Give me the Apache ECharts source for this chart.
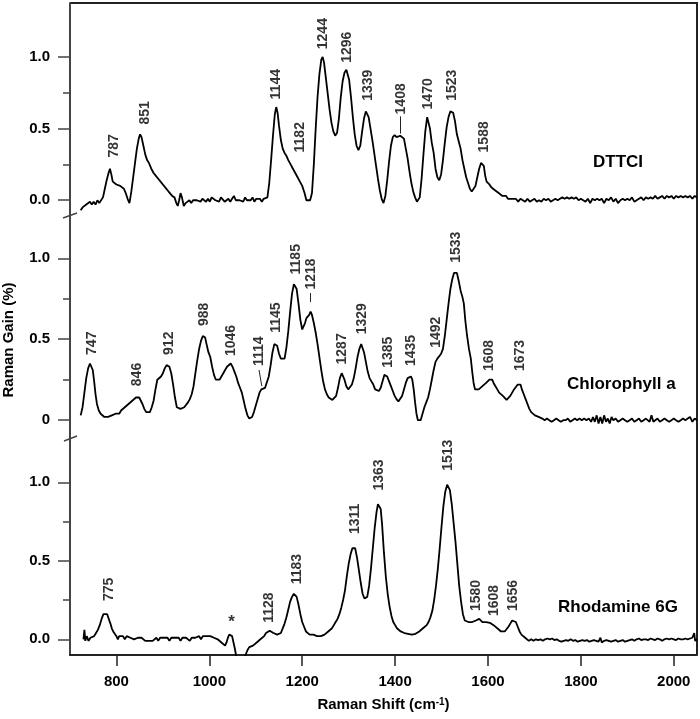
<!DOCTYPE html>
<html><head><meta charset="utf-8">
<script src="https://cdn.jsdelivr.net/npm/echarts@6/dist/echarts.min.js"></script>
<style>html,body{margin:0;padding:0;background:#fff}#c{width:700px;height:719px}</style>
</head><body><div id="c"></div><script>
const FONT = '"Liberation Sans", Arial, sans-serif';
const xTicks = [800,1000,1200,1400,1600,1800,2000];
const yMajorTicks = [0,0.5,1.0];
const yMinorTicks = [0.25,0.75];
const yTickLabels1 = ['0.0','0.5','1.0'];
const yTickLabels2 = ['0','0.5','1.0'];
const yTickLabels3 = ['0.0','0.5','1.0'];
const sampleNames = ['DTTCI','Chlorophyll a','Rhodamine 6G'];

const dttci = [[723,-0.07],[727,-0.05],[731,-0.06],[735,-0.03],[739,-0.04],[743,-0.01],[747,-0.03],[751,-0.01],[755,-0.03],[759,0.00],[763,-0.02],[767,-0.03],[771,0.02],[775,0.08],[779,0.14],[783,0.19],[786,0.22],[789,0.18],[792,0.13],[796,0.12],[800,0.11],[804,0.12],[808,0.10],[812,0.11],[816,0.08],[820,0.05],[824,0.01],[828,-0.02],[832,0.06],[836,0.16],[840,0.26],[844,0.36],[848,0.43],[851,0.46],[854,0.44],[858,0.38],[862,0.32],[866,0.28],[870,0.26],[875,0.22],[880,0.19],[885,0.17],[890,0.15],[895,0.13],[900,0.11],[905,0.09],[910,0.07],[915,0.05],[920,0.03],[925,0.02],[929,-0.02],[932,-0.04],[935,0.00],[938,0.05],[941,0.02],[945,-0.04],[949,-0.02],[953,-0.03],[957,0.00],[961,-0.02],[965,0.00],[969,0.01],[973,0.00],[977,0.01],[981,-0.01],[985,0.01],[989,0.00],[993,-0.01],[997,0.01],[1001,-0.01],[1005,0.02],[1009,0.01],[1013,0.00],[1017,0.01],[1021,-0.01],[1025,0.02],[1029,0.01],[1033,-0.01],[1037,0.00],[1041,0.01],[1045,-0.01],[1049,0.01],[1053,0.03],[1057,0.00],[1061,0.01],[1065,0.00],[1069,0.01],[1073,-0.01],[1077,0.02],[1081,0.00],[1085,0.01],[1089,0.00],[1093,0.02],[1097,-0.01],[1101,0.01],[1105,0.00],[1109,0.01],[1113,-0.01],[1117,0.01],[1121,0.00],[1125,0.02],[1129,0.12],[1133,0.28],[1137,0.45],[1141,0.60],[1144,0.65],[1147,0.61],[1150,0.52],[1154,0.42],[1158,0.36],[1162,0.33],[1166,0.31],[1170,0.28],[1175,0.25],[1180,0.22],[1185,0.19],[1190,0.16],[1195,0.13],[1200,0.10],[1205,0.05],[1209,0.00],[1213,-0.01],[1217,0.00],[1221,0.05],[1225,0.25],[1229,0.50],[1233,0.72],[1237,0.88],[1241,0.98],[1244,1.00],[1247,0.96],[1251,0.85],[1255,0.74],[1259,0.63],[1263,0.54],[1267,0.48],[1271,0.45],[1275,0.47],[1279,0.57],[1283,0.72],[1287,0.83],[1291,0.89],[1295,0.91],[1298,0.90],[1301,0.84],[1305,0.72],[1309,0.58],[1313,0.46],[1317,0.38],[1321,0.35],[1325,0.38],[1329,0.48],[1333,0.57],[1337,0.62],[1340,0.63],[1343,0.58],[1347,0.50],[1351,0.42],[1355,0.33],[1359,0.24],[1363,0.15],[1367,0.07],[1371,0.01],[1375,-0.02],[1379,0.03],[1383,0.14],[1387,0.27],[1391,0.38],[1395,0.44],[1399,0.455],[1403,0.44],[1407,0.43],[1411,0.45],[1415,0.455],[1419,0.43],[1423,0.36],[1427,0.29],[1431,0.20],[1435,0.12],[1439,0.06],[1443,0.02],[1447,-0.01],[1450,-0.02],[1453,0.02],[1457,0.15],[1461,0.32],[1465,0.48],[1469,0.58],[1472,0.57],[1475,0.50],[1479,0.40],[1483,0.33],[1487,0.22],[1491,0.16],[1495,0.14],[1499,0.18],[1503,0.28],[1507,0.40],[1511,0.51],[1515,0.58],[1519,0.62],[1522,0.63],[1525,0.61],[1529,0.55],[1533,0.46],[1537,0.41],[1541,0.36],[1545,0.28],[1549,0.22],[1553,0.16],[1557,0.12],[1561,0.08],[1565,0.06],[1569,0.06],[1573,0.10],[1577,0.16],[1581,0.22],[1585,0.26],[1588,0.27],[1591,0.24],[1594,0.17],[1597,0.13],[1600,0.14],[1603,0.11],[1607,0.09],[1611,0.09],[1615,0.07],[1619,0.07],[1623,0.05],[1627,0.05],[1631,0.03],[1635,0.02],[1639,0.03],[1643,0.01],[1647,0.02],[1651,0.01],[1655,0.00],[1660,0.01],[1665,-0.01],[1670,0.01],[1675,0.00],[1680,-0.01],[1685,0.01],[1690,-0.01],[1695,0.00],[1700,0.01],[1705,-0.01],[1710,0.00],[1715,-0.01],[1720,0.01],[1725,0.00],[1730,0.01],[1735,-0.01],[1740,0.00],[1745,0.01],[1750,0.00],[1755,0.01],[1760,0.02],[1765,0.01],[1770,0.02],[1775,0.01],[1780,0.02],[1785,0.01],[1790,0.02],[1795,0.00],[1800,0.01],[1805,0.00],[1810,-0.01],[1815,0.01],[1820,-0.02],[1825,0.01],[1830,0.00],[1835,0.01],[1840,0.00],[1845,0.01],[1850,-0.02],[1855,0.01],[1860,0.00],[1865,0.02],[1870,-0.01],[1875,0.01],[1880,-0.02],[1885,0.00],[1890,0.01],[1895,0.00],[1900,0.01],[1905,0.00],[1910,0.02],[1915,-0.01],[1920,0.00],[1925,0.01],[1930,0.02],[1935,0.00],[1940,0.02],[1945,0.01],[1950,0.02],[1955,0.01],[1960,0.03],[1965,0.01],[1970,0.02],[1975,0.03],[1980,0.01],[1985,0.03],[1990,0.02],[1995,0.03],[2000,0.01],[2005,0.03],[2010,0.02],[2015,0.03],[2020,0.02],[2025,0.03],[2030,0.02],[2035,0.03],[2040,0.01],[2045,0.03],[2050,0.02]];

const chlorophyll = [[723,0.03],[727,0.08],[731,0.17],[735,0.26],[739,0.32],[743,0.35],[746,0.35],[749,0.31],[752,0.24],[755,0.16],[758,0.10],[762,0.06],[766,0.04],[770,0.03],[774,0.02],[778,0.01],[782,0.02],[786,0.01],[790,0.03],[794,0.02],[798,0.04],[802,0.05],[806,0.04],[810,0.06],[814,0.07],[818,0.08],[822,0.09],[826,0.10],[830,0.11],[834,0.12],[838,0.13],[842,0.14],[846,0.15],[849,0.14],[852,0.13],[856,0.10],[860,0.07],[864,0.05],[868,0.04],[872,0.05],[876,0.08],[880,0.12],[884,0.19],[888,0.25],[892,0.26],[896,0.27],[900,0.29],[904,0.32],[908,0.34],[911,0.35],[914,0.33],[918,0.29],[922,0.22],[926,0.14],[930,0.08],[934,0.07],[938,0.07],[942,0.08],[946,0.08],[950,0.09],[954,0.11],[958,0.13],[962,0.16],[966,0.21],[970,0.29],[974,0.37],[978,0.44],[982,0.49],[986,0.52],[988,0.53],[991,0.51],[994,0.47],[998,0.42],[1002,0.39],[1006,0.33],[1010,0.28],[1014,0.25],[1018,0.24],[1022,0.25],[1026,0.27],[1030,0.29],[1034,0.31],[1038,0.33],[1042,0.34],[1046,0.35],[1050,0.33],[1054,0.30],[1058,0.27],[1062,0.23],[1066,0.20],[1070,0.17],[1074,0.12],[1078,0.07],[1082,0.03],[1086,0.01],[1089,0.00],[1092,0.02],[1096,0.05],[1100,0.09],[1104,0.13],[1108,0.17],[1112,0.19],[1116,0.20],[1120,0.20],[1124,0.21],[1128,0.27],[1132,0.34],[1136,0.42],[1140,0.47],[1143,0.48],[1146,0.46],[1150,0.41],[1154,0.38],[1158,0.37],[1162,0.38],[1166,0.45],[1170,0.55],[1174,0.67],[1178,0.78],[1182,0.84],[1185,0.85],[1188,0.81],[1192,0.72],[1196,0.62],[1200,0.56],[1203,0.55],[1206,0.60],[1209,0.63],[1212,0.62],[1215,0.65],[1218,0.67],[1221,0.65],[1225,0.60],[1229,0.54],[1233,0.47],[1237,0.39],[1241,0.31],[1245,0.24],[1249,0.19],[1253,0.16],[1257,0.14],[1261,0.13],[1265,0.125],[1269,0.13],[1273,0.15],[1277,0.20],[1281,0.26],[1285,0.29],[1288,0.29],[1291,0.25],[1295,0.21],[1299,0.19],[1303,0.20],[1307,0.22],[1311,0.26],[1315,0.32],[1319,0.39],[1323,0.44],[1327,0.47],[1330,0.46],[1333,0.42],[1337,0.36],[1341,0.30],[1345,0.26],[1349,0.24],[1353,0.22],[1357,0.19],[1361,0.18],[1365,0.18],[1369,0.20],[1373,0.24],[1377,0.28],[1380,0.28],[1383,0.27],[1387,0.24],[1391,0.21],[1395,0.18],[1399,0.15],[1403,0.13],[1407,0.115],[1411,0.12],[1415,0.15],[1419,0.19],[1423,0.23],[1427,0.26],[1431,0.27],[1434,0.27],[1437,0.25],[1440,0.19],[1443,0.11],[1446,0.04],[1449,0.00],[1452,-0.01],[1455,0.00],[1459,0.04],[1463,0.08],[1467,0.11],[1471,0.14],[1475,0.19],[1479,0.25],[1483,0.31],[1487,0.36],[1491,0.38],[1495,0.39],[1499,0.41],[1503,0.44],[1507,0.52],[1511,0.62],[1515,0.72],[1519,0.81],[1523,0.87],[1527,0.91],[1530,0.92],[1533,0.91],[1537,0.86],[1541,0.80],[1545,0.76],[1548,0.72],[1551,0.62],[1555,0.52],[1559,0.44],[1563,0.38],[1566,0.30],[1569,0.23],[1572,0.19],[1576,0.18],[1580,0.19],[1584,0.20],[1588,0.21],[1592,0.22],[1596,0.23],[1600,0.24],[1603,0.25],[1606,0.24],[1609,0.25],[1612,0.23],[1616,0.21],[1620,0.19],[1624,0.17],[1628,0.16],[1632,0.15],[1636,0.14],[1640,0.125],[1644,0.13],[1648,0.15],[1652,0.17],[1656,0.19],[1660,0.20],[1664,0.22],[1667,0.23],[1670,0.22],[1673,0.19],[1677,0.16],[1681,0.13],[1685,0.10],[1689,0.07],[1693,0.05],[1697,0.04],[1701,0.03],[1705,0.02],[1709,0.02],[1713,0.01],[1717,0.01],[1722,0.00],[1727,0.01],[1732,0.00],[1737,-0.01],[1742,0.00],[1747,0.01],[1752,0.00],[1757,-0.01],[1762,0.00],[1767,0.00],[1772,0.01],[1777,-0.01],[1782,0.00],[1787,0.01],[1792,0.00],[1797,0.01],[1802,0.00],[1807,0.01],[1812,0.00],[1817,0.01],[1822,-0.01],[1826,0.02],[1830,-0.01],[1834,0.03],[1838,-0.02],[1842,0.02],[1846,-0.02],[1850,0.03],[1854,-0.01],[1858,0.01],[1862,-0.02],[1866,0.02],[1870,0.00],[1875,0.01],[1880,-0.01],[1885,0.00],[1890,0.01],[1895,0.00],[1900,-0.01],[1905,0.00],[1910,0.01],[1915,-0.01],[1920,0.00],[1925,0.01],[1930,-0.01],[1935,0.00],[1940,0.01],[1944,0.02],[1948,-0.01],[1952,0.03],[1956,-0.01],[1960,0.00],[1965,0.01],[1970,-0.01],[1975,0.00],[1980,0.01],[1985,0.00],[1990,-0.01],[1995,0.00],[2000,0.01],[2005,0.00],[2010,-0.01],[2015,0.00],[2020,0.01],[2025,0.00],[2030,0.01],[2035,0.02],[2040,-0.01],[2045,0.01],[2050,0.00]];

const rhodamine = [[729,0.00],[731,0.06],[733,-0.01],[736,0.02],[740,-0.01],[744,0.01],[748,0.00],[752,0.02],[756,0.04],[760,0.06],[764,0.09],[768,0.13],[772,0.16],[776,0.16],[780,0.16],[784,0.15],[787,0.10],[790,0.07],[793,0.05],[796,0.04],[800,0.02],[803,0.00],[806,0.02],[810,0.01],[814,0.02],[818,0.00],[822,0.02],[826,0.01],[830,0.01],[834,0.02],[838,0.00],[842,0.01],[846,0.01],[850,0.00],[854,0.01],[858,0.00],[862,-0.01],[866,0.00],[870,-0.01],[874,0.00],[878,-0.01],[882,0.00],[886,0.01],[890,-0.01],[894,0.01],[898,0.00],[902,0.01],[906,0.00],[910,0.01],[914,-0.01],[918,0.01],[922,0.00],[926,0.01],[930,0.00],[934,0.01],[938,-0.01],[942,0.01],[946,0.00],[950,0.01],[954,0.00],[958,-0.01],[962,0.01],[966,0.00],[970,0.01],[974,0.00],[978,0.02],[982,0.00],[986,0.02],[990,0.01],[994,0.02],[998,0.01],[1002,0.02],[1006,0.01],[1010,0.01],[1014,0.00],[1018,0.00],[1022,-0.01],[1026,-0.02],[1030,-0.03],[1034,-0.04],[1037,-0.02],[1040,0.01],[1043,0.03],[1046,0.035],[1049,0.02],[1052,-0.02],[1055,-0.06],[1058,-0.11],[1062,-0.20],[1066,-0.25],[1070,-0.20],[1074,-0.14],[1078,-0.10],[1082,-0.07],[1086,-0.05],[1090,-0.04],[1094,-0.04],[1098,-0.03],[1102,-0.02],[1106,-0.01],[1110,0.00],[1114,0.01],[1118,0.02],[1122,0.04],[1126,0.05],[1130,0.055],[1134,0.05],[1138,0.04],[1142,0.04],[1146,0.03],[1150,0.03],[1154,0.04],[1158,0.07],[1162,0.10],[1166,0.14],[1170,0.19],[1174,0.24],[1178,0.27],[1182,0.29],[1185,0.29],[1188,0.27],[1192,0.22],[1196,0.16],[1200,0.11],[1204,0.08],[1208,0.05],[1212,0.04],[1216,0.03],[1220,0.02],[1224,0.03],[1228,0.02],[1232,0.02],[1236,0.01],[1240,0.02],[1244,0.03],[1248,0.03],[1252,0.04],[1256,0.05],[1260,0.06],[1264,0.07],[1268,0.09],[1272,0.11],[1276,0.13],[1280,0.16],[1284,0.20],[1288,0.25],[1292,0.31],[1296,0.40],[1300,0.48],[1304,0.54],[1308,0.58],[1311,0.59],[1314,0.58],[1318,0.52],[1322,0.44],[1326,0.36],[1330,0.29],[1334,0.26],[1337,0.25],[1340,0.27],[1344,0.34],[1348,0.45],[1352,0.58],[1356,0.71],[1360,0.81],[1363,0.86],[1366,0.87],[1369,0.83],[1372,0.73],[1376,0.55],[1380,0.40],[1384,0.29],[1388,0.21],[1392,0.15],[1396,0.11],[1400,0.09],[1404,0.07],[1408,0.06],[1412,0.05],[1416,0.045],[1420,0.04],[1424,0.04],[1428,0.035],[1432,0.04],[1436,0.03],[1440,0.03],[1444,0.035],[1448,0.04],[1452,0.05],[1456,0.06],[1460,0.07],[1464,0.08],[1468,0.09],[1472,0.11],[1476,0.14],[1480,0.18],[1484,0.25],[1488,0.34],[1492,0.45],[1496,0.58],[1500,0.72],[1504,0.85],[1508,0.94],[1512,0.985],[1515,0.99],[1518,0.95],[1522,0.86],[1526,0.74],[1530,0.62],[1534,0.48],[1538,0.34],[1542,0.24],[1546,0.16],[1550,0.12],[1554,0.115],[1558,0.11],[1562,0.115],[1566,0.11],[1570,0.115],[1574,0.12],[1578,0.125],[1581,0.13],[1584,0.12],[1588,0.11],[1592,0.10],[1596,0.11],[1600,0.10],[1604,0.105],[1608,0.10],[1612,0.09],[1616,0.08],[1620,0.07],[1624,0.06],[1628,0.05],[1632,0.04],[1636,0.05],[1640,0.06],[1644,0.08],[1648,0.10],[1652,0.12],[1656,0.13],[1660,0.11],[1664,0.08],[1668,0.05],[1672,0.03],[1676,0.02],[1680,0.01],[1684,0.00],[1688,-0.01],[1693,0.00],[1698,-0.01],[1703,0.00],[1708,-0.005],[1713,0.00],[1718,-0.01],[1723,0.00],[1728,0.005],[1733,0.00],[1738,0.005],[1743,-0.005],[1748,0.00],[1753,-0.01],[1758,-0.015],[1763,-0.01],[1768,-0.005],[1773,-0.01],[1778,0.00],[1783,-0.01],[1788,-0.005],[1793,-0.015],[1798,-0.01],[1803,-0.005],[1808,-0.01],[1813,-0.005],[1818,-0.015],[1823,-0.01],[1828,-0.005],[1833,-0.01],[1838,-0.015],[1842,0.01],[1845,-0.02],[1850,-0.01],[1855,-0.005],[1860,-0.01],[1865,-0.015],[1870,-0.01],[1875,-0.005],[1880,-0.015],[1885,-0.01],[1890,-0.005],[1895,-0.015],[1900,-0.01],[1905,-0.005],[1910,0.00],[1915,-0.01],[1920,0.00],[1925,0.005],[1930,-0.005],[1935,0.00],[1940,0.00],[1945,-0.005],[1950,0.005],[1955,0.00],[1960,-0.005],[1965,0.005],[1970,0.00],[1975,-0.01],[1980,0.00],[1985,0.005],[1990,0.00],[1995,0.005],[2000,0.00],[2005,-0.005],[2010,0.005],[2015,0.00],[2020,0.00],[2025,0.005],[2030,0.00],[2035,0.005],[2040,0.01],[2044,0.04],[2046,-0.01],[2050,0.00]];

// peak label anchors: [wavenumber, y at bottom of text, text]
const dttciPeaks = [[795,0.295,'787'],[861,0.525,'851'],[1143,0.70,'1144'],[1195,0.33,'1182'],[1245,1.05,'1244'],[1296,0.955,'1296'],[1342,0.69,'1339'],[1413,0.595,'1408'],[1471,0.63,'1470'],[1523,0.69,'1523'],[1591,0.33,'1588']];
const chlorophyllPeaks = [[747,0.40,'747'],[845,0.207,'846'],[913,0.40,'912'],[989,0.578,'988'],[1048,0.393,'1046'],[1107,0.331,'1114'],[1144,0.537,'1145'],[1186,0.897,'1185'],[1220,0.804,'1218'],[1287,0.341,'1287'],[1329,0.527,'1329'],[1384,0.32,'1385'],[1434,0.331,'1435'],[1488,0.444,'1492'],[1531,0.969,'1533'],[1602,0.30,'1608'],[1670,0.30,'1673']];
const rhodaminePeaks = [[784,0.24,'775'],[1129,0.102,'1128'],[1190,0.347,'1183'],[1315,0.667,'1311'],[1365,0.944,'1363'],[1514,1.07,'1513'],[1575,0.177,'1580'],[1614,0.145,'1608'],[1654,0.177,'1656']];
const rhodamineStar = [[1048,0.05,'*']];
// leader lines [[x1,y1],[x2,y2]]
const dttciLeaders = [[[1411,0.465],[1411,0.585]]];
const chlorophyllLeaders = [[[1107,0.31],[1113,0.21]],[[1218,0.73],[1218,0.785]]];

const yRanges = [[-0.11,1.376],[-0.11,1.261],[-0.1,1.282]];
const yLabelSets = [yTickLabels1, yTickLabels2, yTickLabels3];
const grids = [
  {left:70, right:3, top:3, height:213},
  {left:70, right:3, top:216, height:222},
  {left:70, right:3, top:438, height:217}
];
const AX = '#444';
const HIDDEN = 'rgba(0,0,0,0)';

const xAxes = grids.map((g,i)=>({
  type:'value', gridIndex:i, min:700, max:2050,
  show: i===2,
  axisLine:{show:true, onZero:false, lineStyle:{color:'#222', width:2}},
  axisTick:{show:true, inside:false, length:11, customValues:xTicks, lineStyle:{color:'#222', width:1.5}},
  axisLabel:{show:true, customValues:xTicks, margin:19, color:'#000', fontSize:15, fontWeight:'bold', fontFamily:FONT,
    formatter:(v)=>String(Math.round(v))},
  splitLine:{show:false},
  name: i===2 ? 'Raman Shift (cm{sup|-1})' : '',
  nameLocation:'middle', nameGap:42,
  nameTextStyle:{color:'#000', fontSize:15, fontWeight:'bold', fontFamily:FONT,
    rich:{sup:{fontSize:10, fontWeight:'bold', fontFamily:FONT, color:'#000', verticalAlign:'top'}}}
}));

const yAxes = [];
grids.forEach((g,i)=>{
  const labs = yLabelSets[i];
  yAxes.push({
    type:'value', gridIndex:i, min:yRanges[i][0], max:yRanges[i][1], position:'left',
    axisLine:{show:true, onZero:false, lineStyle:{color:AX, width:2}},
    axisTick:{show:true, length:12, customValues:yMajorTicks, lineStyle:{color:AX, width:1.5}},
    axisLabel:{show:true, customValues:yMajorTicks, margin:20, color:'#000', fontSize:15, fontWeight:'bold', fontFamily:FONT,
      formatter:(v)=>{const k=yMajorTicks.findIndex(t=>Math.abs(t-v)<1e-6); return k>=0?labs[k]:'';}},
    splitLine:{show:false}
  });
  yAxes.push({
    type:'value', gridIndex:i, min:yRanges[i][0], max:yRanges[i][1], position:'left',
    axisLine:{show:false},
    axisTick:{show:true, length:7, customValues:yMinorTicks, lineStyle:{color:AX, width:1.5}},
    axisLabel:{show:false},
    splitLine:{show:false}
  });
});

const spectra = [dttci, chlorophyll, rhodamine];
const peakSets = [dttciPeaks, chlorophyllPeaks, rhodaminePeaks];
const leaderSets = [dttciLeaders, chlorophyllLeaders, []];

const series = [];
spectra.forEach((d,i)=>{
  series.push({
    type:'line', xAxisIndex:i, yAxisIndex:2*i, data:d, showSymbol:false, symbol:'none',
    lineStyle:{color:'#000', width:1.8}, clip:true, animation:false, z:3
  });
  const s = {
    type:'scatter', xAxisIndex:i, yAxisIndex:2*i, symbol:'circle', symbolSize:1,
    itemStyle:{color:HIDDEN}, animation:false, silent:true, clip:false, z:4,
    data: peakSets[i].map(p=>({value:[p[0],p[1]], name:p[2]})),
    label:{show:true, position:'top', distance:0, rotate:90, align:'left', verticalAlign:'middle',
      formatter:(p)=>p.name, color:'#000', fontSize:14, fontWeight:'bold', fontFamily:FONT},
    labelLayout:{hideOverlap:false}
  };
  if (leaderSets[i].length) {
    s.markLine = {
      silent:true, symbol:['none','none'], animation:false, label:{show:false},
      lineStyle:{color:'#222', width:1, type:'solid'},
      data: leaderSets[i].map(seg=>[{coord:seg[0]},{coord:seg[1]}])
    };
  }
  series.push(s);
});
series.push({
  type:'scatter', xAxisIndex:2, yAxisIndex:4, symbol:'circle', symbolSize:1,
  itemStyle:{color:HIDDEN}, animation:false, silent:true, z:4,
  data: rhodamineStar.map(p=>({value:[p[0],p[1]], name:p[2]})),
  label:{show:true, position:'top', distance:0, formatter:(p)=>p.name, color:'#000', fontSize:17, fontWeight:'bold', fontFamily:FONT}
});

const nameTxt = (t,x,y)=>({type:'text', x:x, y:y, silent:true,
  style:{text:t, fill:'#000', font:'bold 17px '+FONT, fontSize:17, fontWeight:'bold', fontFamily:FONT, align:'left', verticalAlign:'middle', textAlign:'left', textVerticalAlign:'middle'}});

const option = {
  animation:false,
  backgroundColor:'#fff',
  grid: grids,
  xAxis: xAxes,
  yAxis: yAxes,
  series: series,
  graphic: [
    {type:'polyline', silent:true, shape:{points:[[70,3],[697,3],[697,655]]}, style:{stroke:'#222', lineWidth:2, fill:null}},
    {type:'line', silent:true, shape:{x1:63,y1:218,x2:77,y2:213}, style:{stroke:AX, lineWidth:1.5}},
    {type:'line', silent:true, shape:{x1:64,y1:441,x2:77,y2:436}, style:{stroke:AX, lineWidth:1.5}},
    nameTxt(sampleNames[0], 593, 162),
    nameTxt(sampleNames[1], 567, 384),
    nameTxt(sampleNames[2], 558, 607),
    {type:'text', x:9, y:340, rotation:Math.PI/2, silent:true,
      style:{text:'Raman Gain (%)', fill:'#000', font:'bold 15px '+FONT, fontSize:15, fontWeight:'bold', fontFamily:FONT, align:'center', verticalAlign:'middle', textAlign:'center', textVerticalAlign:'middle'}}
  ]
};
const chart = echarts.init(document.getElementById('c'), null, {renderer:'canvas'});
chart.setOption(option);
</script></body></html>
